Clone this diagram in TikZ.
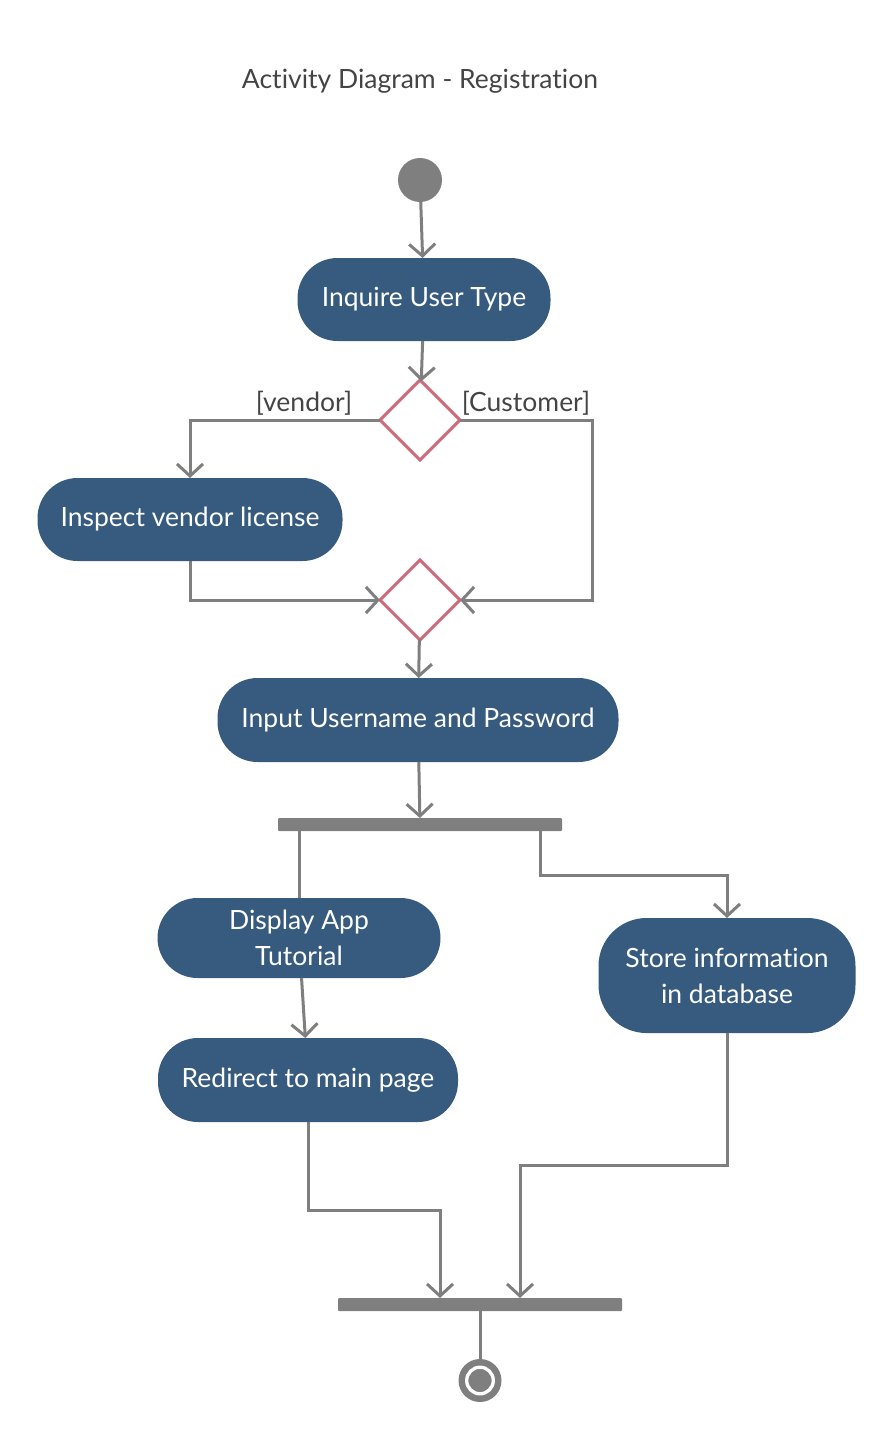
\documentclass[tikz,border=0pt]{standalone}
\usepackage{fontspec}
\setmainfont{Lato}[Ligatures=NoCommon]
\usetikzlibrary{arrows.meta, positioning, shapes.geometric}

\definecolor{actblue}{HTML}{365B7E}
\definecolor{flowgray}{HTML}{7F7F7F}
\definecolor{decred}{HTML}{D06A78}
\definecolor{labelgray}{HTML}{444444}

\begin{document}
\begin{tikzpicture}[
            > = {Straight Barb[length=12pt, width=26pt]},
            auto,
            node distance = 40pt,
            color = flowgray,
            line width = 3pt
        ]

        \tikzstyle{activity}=[
            rectangle,
            rounded corners = 40pt,
            fill = actblue,
            text = white,
            font = \fontsize{26.5}{36}\selectfont,
            align = center,
            outer sep = 0pt,
            minimum height = 83pt
        ]
        \tikzstyle{decision}=[diamond, draw = decred, fill = white, inner sep = 0pt, outer sep = 0pt, minimum size = 80pt]
        \tikzstyle{bar}=[rectangle, fill = flowgray, rounded corners = 1pt, inner sep = 0pt, outer sep = 0pt, minimum width = 284pt, minimum height = 13pt]
        \tikzstyle{startstate}=[circle, fill = flowgray, inner sep = 0pt, outer sep = 0pt, minimum size = 44pt]
        \tikzstyle{finalstate}=[circle, fill = flowgray, inner sep = 0pt, outer sep = 0pt, minimum size = 43pt,
            path picture = {\draw[white, line width = 3.3pt] (path picture bounding box.center) circle (13.3pt);}]
        \tikzstyle{guard}=[font = \fontsize{26.5}{30}\selectfont, text = labelgray]

        \useasboundingbox (0pt,0pt) rectangle (894pt,-1440pt);

        \node[startstate] (start) at (420pt,-180pt) {};
        \node[guard] (title) [above=60pt of start] {Activity Diagram - Registration};
        \node[activity, minimum width=253pt] (inquire) [below=56pt of start, xshift=4pt] {Inquire User Type};
        \node[decision] (split) [below=39pt of inquire, xshift=-4pt] {};
        \node[activity, minimum width=305pt] (inspect) [below=18pt of split, xshift=-230pt] {Inspect vendor license};
        \node[decision] (merge) [below=100pt of split] {};
        \node[activity, minimum width=401pt, minimum height=84pt] (input) [below=38pt of merge, xshift=-2pt] {Input Username and Password};
        \node[bar] (fork) [below=56pt of input, xshift=2pt] {};
        \node[activity, minimum width=283pt, minimum height=80pt] (tutorial) [below=67pt of fork, xshift=-121pt] {Display App\\Tutorial};
        \node[activity, minimum width=257pt, minimum height=115pt, rounded corners=48pt] (store) [below=87pt of fork, xshift=307pt] {Store information\\in database};
        \node[activity, minimum width=300pt, minimum height=84pt] (redirect) [below=60pt of tutorial, xshift=9pt] {Redirect to main page};
        \node[bar] (join) [below=176pt of redirect, xshift=172pt] {};
        \node[finalstate] (end) [below=48pt of join] {};

        \path[->] (start) edge (inquire);
        \path[->] (inquire) edge (split);
        \path[->] (merge) edge (input);
        \path[->] (input) edge (fork);
        \path[->] (tutorial) edge (redirect);

        % guarded branches
        \draw[->] (split) -| node[guard, above, pos=0.2] {[vendor]} (inspect);
        \draw[->] (split.east) -- node[guard, above] {[Customer]} ++(132pt,0pt) |- (merge);
        \draw[->] (inspect) |- (merge);

        % fork and join
        \draw (fork.south -| tutorial) -- (tutorial);
        \draw[->] ([xshift=120pt]fork.south) -- ++(0pt,-44pt) -| (store);
        \draw[->] (redirect.south) -- ++(0pt,-88pt) -| ([xshift=-40pt]join.north);
        \draw[->] (store.south) -- ++(0pt,-132pt) -| ([xshift=40pt]join.north);
        \draw (join) -- (end);

    \end{tikzpicture}
\end{document}
